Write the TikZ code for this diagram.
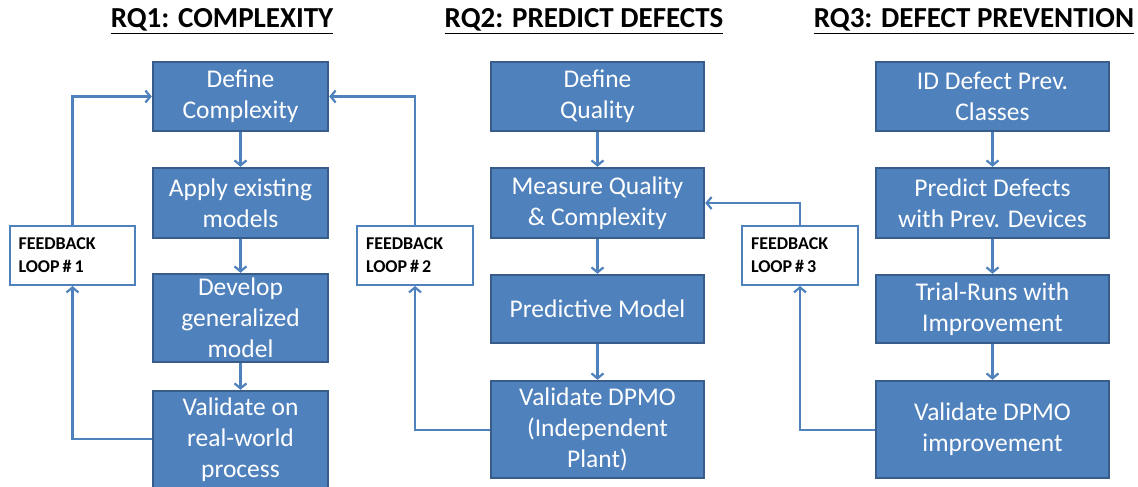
\documentclass[tikz,border=0pt]{standalone}
\usepackage{fontspec}
\setmainfont{Carlito}
\usetikzlibrary{positioning, arrows.meta}
\definecolor{boxblue}{HTML}{4F81BD}
\definecolor{boxedge}{HTML}{385D8A}
\begin{document}
\begin{tikzpicture}[x=1pt, y=-1pt, step box/.style = {draw=boxedge, line width=2.4pt, fill=boxblue, rectangle, text=white, align=center, font=\fontsize{25.5}{31}\selectfont, inner sep=0pt}, loop box/.style = {draw=boxblue, line width=2pt, fill=white, rectangle, align=left, font=\fontsize{18}{23}\selectfont\bfseries, minimum width=125pt, minimum height=59pt, text width=108pt}, title/.style = {font=\fontsize{29}{34}\selectfont\bfseries}, flow/.style = {draw=boxblue, line width=2.2pt, -{Straight Barb[length=5pt, width=12pt]}}]
  \useasboundingbox (0, 0) rectangle (1138, 487);
  \node[title] at (222, 21) (title1) {\underline{RQ1: COMPLEXITY}};
  \node[title] at (584, 21) (title2) {\underline{RQ2: PREDICT DEFECTS}};
  \node[title] at (974, 21) (title3) {\underline{RQ3: DEFECT PREVENTION}};
  \node[step box, minimum width=175pt, minimum height=69pt] at (240.5, 96.5) (define-complexity) {Define\\Complexity};
  \node[step box, minimum width=175pt, minimum height=70pt] at (240.5, 203) (apply-models) {Apply existing\\models};
  \node[step box, minimum width=175pt, minimum height=88pt] at (240.5, 318) (develop-model) {Develop\\generalized\\model};
  \node[step box, minimum width=175pt, minimum height=98pt] at (240.5, 440) (validate-process) {Validate on\\real-world\\process};
  \node[step box, minimum width=213pt, minimum height=69pt] at (597.5, 96.5) (define-quality) {Define\\Quality};
  \node[step box, minimum width=213pt, minimum height=70pt] at (597.5, 203) (measure-quality) {Measure Quality\\\& Complexity};
  \node[step box, minimum width=213pt, minimum height=68pt] at (597.5, 309) (predictive-model) {Predictive Model};
  \node[step box, minimum width=213pt, minimum height=97pt] at (597.5, 429.5) (validate-plant) {Validate DPMO\\(Independent\\Plant)};
  \node[step box, minimum width=233pt, minimum height=69pt] at (992.5, 96.5) (id-classes) {ID Defect Prev.\\Classes};
  \node[step box, minimum width=233pt, minimum height=70pt] at (992.5, 203) (predict-defects) {Predict Defects\\with Prev. Devices};
  \node[step box, minimum width=233pt, minimum height=68pt] at (992.5, 309) (trial-runs) {Trial-Runs with\\Improvement};
  \node[step box, minimum width=233pt, minimum height=97pt] at (992.5, 429.5) (validate-improvement) {Validate DPMO\\improvement};
  \node[loop box] at (72.5, 255.5) (loop1) {FEEDBACK\\LOOP\,\#\,1};
  \node[loop box, minimum width=116pt, text width=98pt] at (415, 255.5) (loop2) {FEEDBACK\\LOOP\,\#\,2};
  \node[loop box, minimum width=116pt, text width=98pt] at (800, 255.5) (loop3) {FEEDBACK\\LOOP\,\#\,3};
  \draw[flow] (define-complexity) -- (apply-models);
  \draw[flow] (apply-models) -- (develop-model);
  \draw[flow] (develop-model) -- (validate-process);
  \draw[flow] (define-quality) -- (measure-quality);
  \draw[flow] (measure-quality) -- (predictive-model);
  \draw[flow] (predictive-model) -- (validate-plant);
  \draw[flow] (id-classes) -- (predict-defects);
  \draw[flow] (predict-defects) -- (trial-runs);
  \draw[flow] (trial-runs) -- (validate-improvement);
  \draw[flow] (validate-process.west |- 0, 439) -| (loop1.south);
  \draw[flow] (loop1.north) |- (define-complexity.west);
  \draw[flow] (validate-plant.west |- 0, 430) -| (loop2.south);
  \draw[flow] (loop2.north) |- (define-complexity.east);
  \draw[flow] (validate-improvement.west |- 0, 430) -| (loop3.south);
  \draw[flow] (loop3.north) |- (measure-quality.east);
\end{tikzpicture}
\end{document}
